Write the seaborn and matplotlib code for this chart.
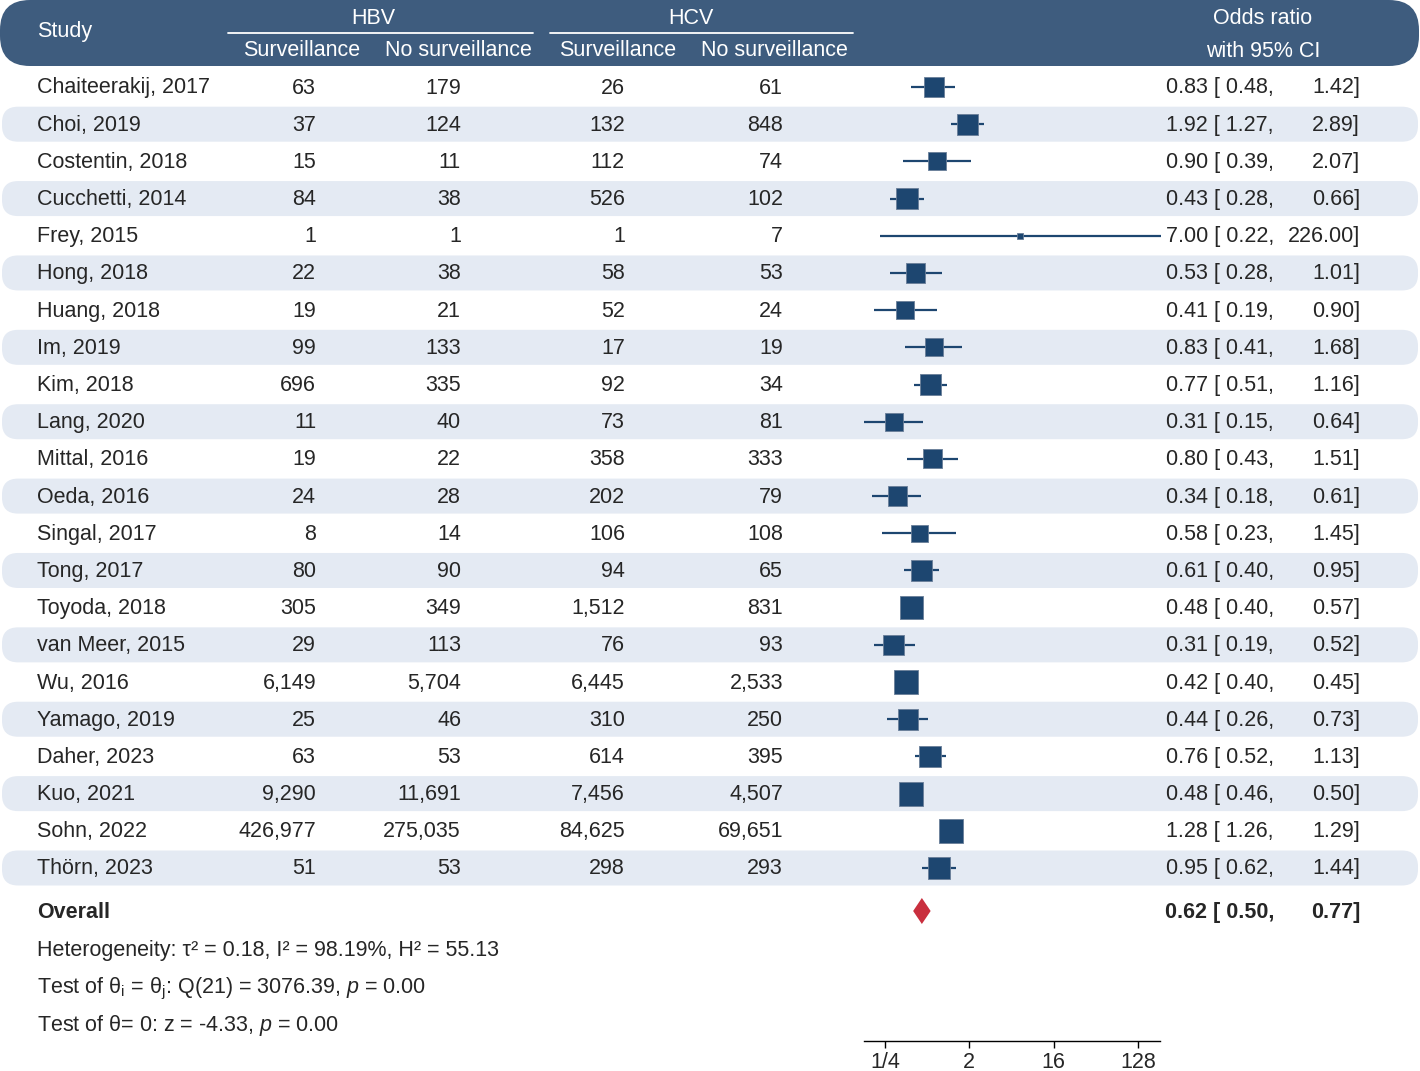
import matplotlib
matplotlib.use('Agg')
import matplotlib.pyplot as plt
from matplotlib.patches import FancyBboxPatch
import seaborn as sns
import pandas as pd

# ---- data ----
studies = ['Chaiteerakij, 2017', 'Choi, 2019', 'Costentin, 2018', 'Cucchetti, 2014', 'Frey, 2015',
           'Hong, 2018', 'Huang, 2018', 'Im, 2019', 'Kim, 2018', 'Lang, 2020', 'Mittal, 2016',
           'Oeda, 2016', 'Singal, 2017', 'Tong, 2017', 'Toyoda, 2018', 'van Meer, 2015', 'Wu, 2016',
           'Yamago, 2019', 'Daher, 2023', 'Kuo, 2021', 'Sohn, 2022', 'Thörn, 2023']
hbv_surv = [63, 37, 15, 84, 1, 22, 19, 99, 696, 11, 19, 24, 8, 80, 305, 29, 6149, 25, 63, 9290, 426977, 51]
hbv_nosurv = [179, 124, 11, 38, 1, 38, 21, 133, 335, 40, 22, 28, 14, 90, 349, 113, 5704, 46, 53, 11691, 275035, 53]
hcv_surv = [26, 132, 112, 526, 1, 58, 52, 17, 92, 73, 358, 202, 106, 94, 1512, 76, 6445, 310, 614, 7456, 84625, 298]
hcv_nosurv = [61, 848, 74, 102, 7, 53, 24, 19, 34, 81, 333, 79, 108, 65, 831, 93, 2533, 250, 395, 4507, 69651, 293]
or_est = [0.83, 1.92, 0.90, 0.43, 7.00, 0.53, 0.41, 0.83, 0.77, 0.31, 0.80, 0.34, 0.58, 0.61, 0.48, 0.31,
          0.42, 0.44, 0.76, 0.48, 1.28, 0.95]
or_lo = [0.48, 1.27, 0.39, 0.28, 0.22, 0.28, 0.19, 0.41, 0.51, 0.15, 0.43, 0.18, 0.23, 0.40, 0.40, 0.19,
         0.40, 0.26, 0.52, 0.46, 1.26, 0.62]
or_hi = [1.42, 2.89, 2.07, 0.66, 226.00, 1.01, 0.90, 1.68, 1.16, 0.64, 1.51, 0.61, 1.45, 0.95, 0.57, 0.52,
         0.45, 0.73, 1.13, 0.50, 1.29, 1.44]
# study weights (%)
weights = [4.45, 5.05, 3.60, 5.05, 0.40, 4.14, 3.60, 3.73, 5.05, 3.73, 4.02, 4.32, 3.22, 4.91, 6.04,
           4.76, 6.04, 4.76, 5.24, 6.41, 6.25, 5.24]
overall = [0.62, 0.50, 0.77]
het_lines = [r'Heterogeneity: τ² = 0.18, I² = 98.19%, H² = 55.13',
             r'Test of θ$_\mathregular{i}$ = θ$_\mathregular{j}$: Q(21) = 3076.39, $\mathit{p}$ = 0.00',
             r'Test of θ= 0: z = -4.33, $\mathit{p}$ = 0.00']
tick_vals = [0.25, 2, 16, 128]
tick_labels = ['1/4', '2', '16', '128']

HEAD = '#3e5c7e'
STRIPE = '#e4eaf3'
MARK = '#1d4670'
RED = '#c92f3e'
FS = 15.5


def plot_forest(df):
    sns.set_style('white')
    plt.rcParams['font.family'] = ['Liberation Sans', 'DejaVu Sans']
    plt.rcParams['mathtext.fontset'] = 'custom'
    plt.rcParams['mathtext.rm'] = 'Liberation Sans'
    plt.rcParams['mathtext.it'] = 'Liberation Sans:italic'

    W, H = 1420, 1071
    fig = plt.figure(figsize=(W / 100, H / 100), dpi=100)
    bg = fig.add_axes([0, 0, 1, 1])
    bg.set_xlim(0, W)
    bg.set_ylim(H, 0)
    bg.axis('off')

    row0, row_h = 87, 37.19
    n = len(df)
    va = 'center_baseline'
    dy = -1.5  # text sits a touch above the row centre

    # header band
    bg.add_patch(FancyBboxPatch((0, 0), W - 1, 66, boxstyle='round,pad=0,rounding_size=30',
                                fc=HEAD, ec='none'))
    for i in range(1, n, 2):
        y = row0 + row_h * i
        bg.add_patch(FancyBboxPatch((2, y - 17.5), W - 4, 35, boxstyle='round,pad=0,rounding_size=16',
                                    fc=STRIPE, ec='none'))

    hd = dict(color='white', fontsize=FS, va=va)
    bg.text(37, 29, 'Study', ha='left', **hd)
    bg.text(373, 16, 'HBV', ha='center', **hd)
    bg.text(691, 16, 'HCV', ha='center', **hd)
    bg.plot([228, 533], [33, 33], color='white', lw=1.3)
    bg.plot([550, 853], [33, 33], color='white', lw=1.3)
    bg.text(302, 48, 'Surveillance', ha='center', **hd)
    bg.text(458, 48, 'No surveillance', ha='center', **hd)
    bg.text(618, 48, 'Surveillance', ha='center', **hd)
    bg.text(774, 48, 'No surveillance', ha='center', **hd)
    bg.text(1263, 16, 'Odds ratio', ha='center', **hd)
    bg.text(1263, 49, 'with 95% CI', ha='center', **hd)

    for i, r in df.iterrows():
        y = row0 + row_h * i + dy
        bg.text(37, y, r.study, ha='left', va=va, fontsize=FS)
        bg.text(316, y, f'{r.hbv_s:,}', ha='right', va=va, fontsize=FS)
        bg.text(461, y, f'{r.hbv_n:,}', ha='right', va=va, fontsize=FS)
        bg.text(625, y, f'{r.hcv_s:,}', ha='right', va=va, fontsize=FS)
        bg.text(783, y, f'{r.hcv_n:,}', ha='right', va=va, fontsize=FS)
        bg.text(1274, y, f'{r.est:.2f} [ {r.lo:.2f},', ha='right', va=va, fontsize=FS)
        bg.text(1360, y, f'{r.hi:.2f}]', ha='right', va=va, fontsize=FS)

    y_ov = 910
    bg.text(37, y_ov, 'Overall', ha='left', va=va, fontsize=FS, fontweight='bold')
    bg.text(1274, y_ov, f'{overall[0]:.2f} [ {overall[1]:.2f},', ha='right', va=va,
            fontsize=FS, fontweight='bold')
    bg.text(1360, y_ov, f'{overall[2]:.2f}]', ha='right', va=va, fontsize=FS, fontweight='bold')
    for k, t in enumerate(het_lines):
        bg.text(37, 948 + 37 * k, t, ha='left', va=va, fontsize=FS)

    # forest panel
    top, bot = 66, 1041
    ax = fig.add_axes([864 / W, (H - bot) / H, 296 / W, (bot - top) / H])
    ax.patch.set_alpha(0)
    ax.set_xscale('log', base=2)
    ax.set_xlim(2 ** -2.75, 2 ** 7.79)
    ax.set_ylim((bot - row0) / row_h, (top - row0) / row_h)
    ax.hlines(df.row, df.lo, df.hi, color=MARK, lw=1.6, clip_on=False, zorder=2)
    k = 46.6
    sns.scatterplot(data=df, x='est', y='row', size='w', sizes=(k * min(weights), k * max(weights)),
                    size_norm=(min(weights), max(weights)), marker='s', color=MARK,
                    edgecolor='#6a7f99', linewidth=0.6, legend=False, ax=ax, zorder=3, clip_on=False)
    yo = (911 - row0) / row_h
    h = 0.35
    ax.fill([overall[1], overall[0], overall[2], overall[0]], [yo, yo - h, yo, yo + h],
            color=RED, lw=0, zorder=3)

    for s in ['top', 'right', 'left']:
        ax.spines[s].set_visible(False)
    ax.spines['bottom'].set_color('black')
    ax.spines['bottom'].set_linewidth(1.0)
    ax.set_xticks(tick_vals)
    ax.set_xticklabels(tick_labels, fontsize=FS)
    ax.minorticks_off()
    ax.set_yticks([])
    ax.tick_params(axis='x', bottom=True, direction='out', length=5, width=1, color='black', pad=3)
    ax.set_xlabel('')
    ax.set_ylabel('')

    plt.savefig('out.png', dpi=100)


if __name__ == '__main__':
    df = pd.DataFrame({'study': studies, 'hbv_s': hbv_surv, 'hbv_n': hbv_nosurv,
                       'hcv_s': hcv_surv, 'hcv_n': hcv_nosurv,
                       'est': or_est, 'lo': or_lo, 'hi': or_hi, 'w': weights})
    df['row'] = range(len(df))
    plot_forest(df)
